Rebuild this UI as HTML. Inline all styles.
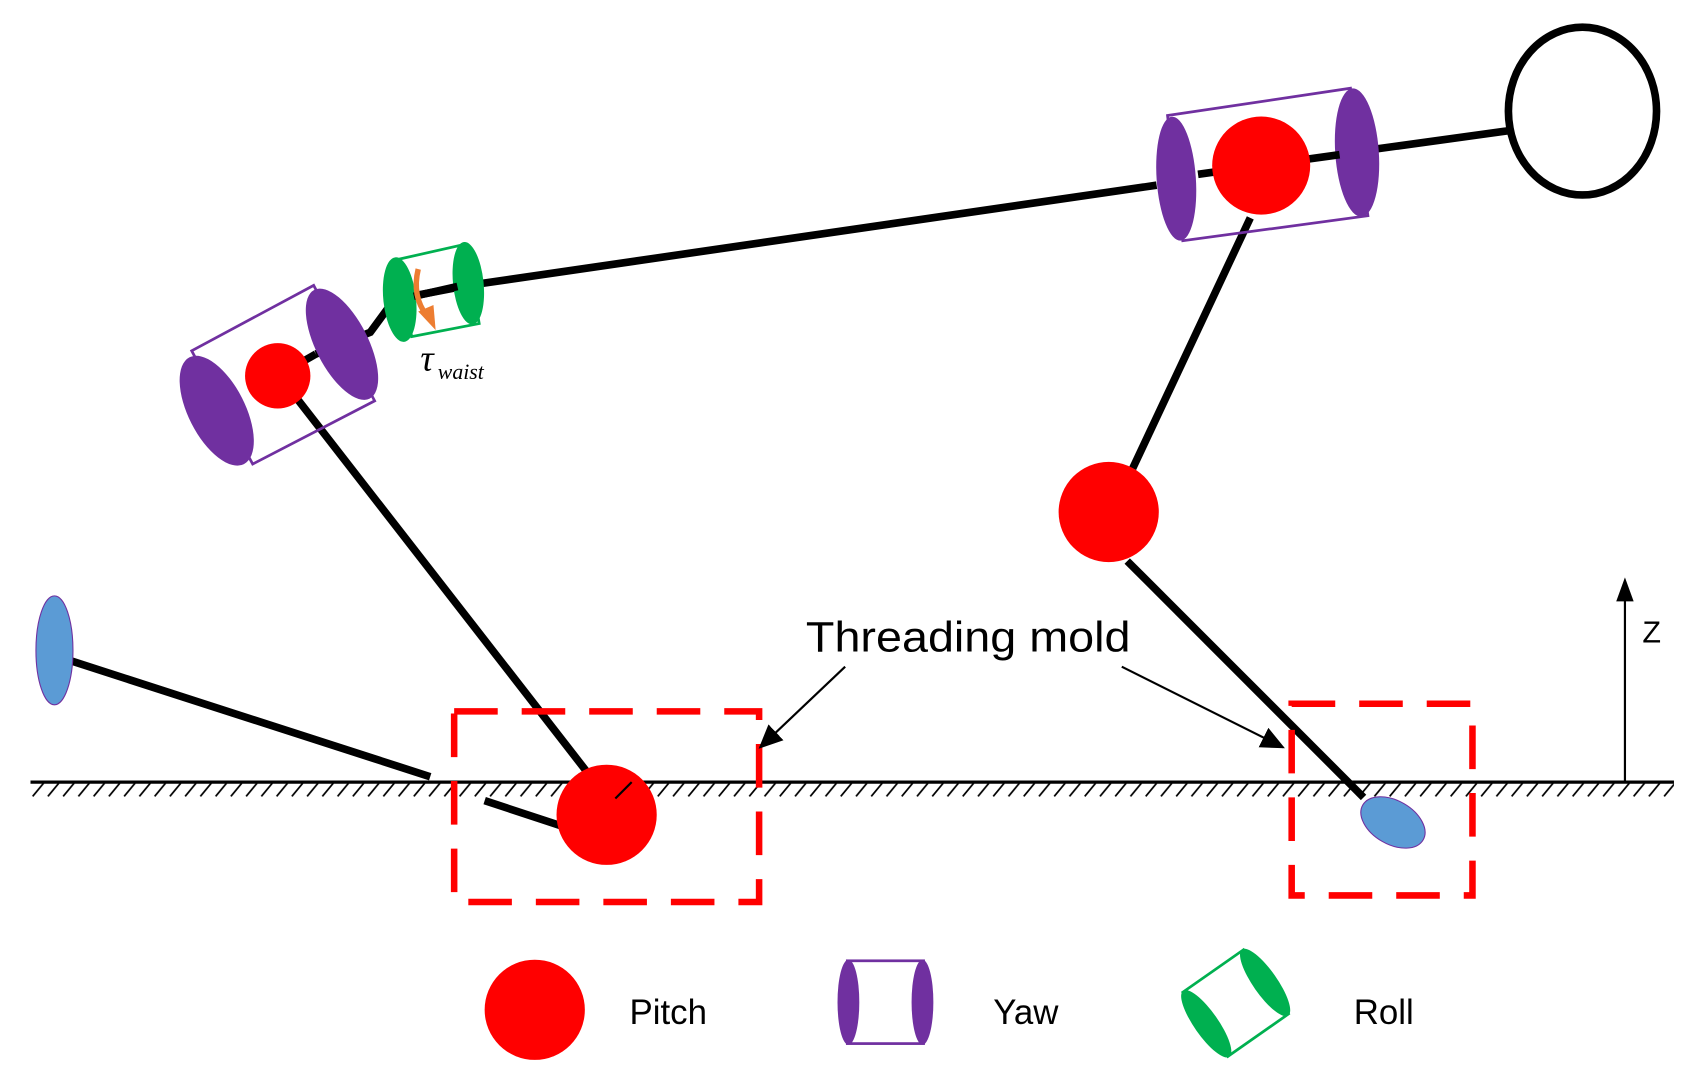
<!DOCTYPE html>
<html><head><meta charset="utf-8"><style>html,body{margin:0;padding:0;background:#fff}svg{display:block}</style></head>
<body>
<svg width="1699" height="1073" viewBox="0 0 1560 985" preserveAspectRatio="none" xmlns="http://www.w3.org/2000/svg">
<defs>
<pattern id="h" x="0" y="718" width="14" height="14" patternUnits="userSpaceOnUse">
<line x1="2" y1="13" x2="12" y2="1" stroke="#000" stroke-width="1.6"/>
</pattern>
<marker id="a" markerWidth="22" markerHeight="20" refX="20" refY="10" orient="auto" markerUnits="userSpaceOnUse" viewBox="0 0 22 20"><path d="M0,0 L22,10 L0,20z" fill="#000"/></marker>
</defs>
<rect x="28" y="719" width="1509" height="13" fill="url(#h)"/>
<line x1="28" y1="718" x2="1537" y2="718" stroke="#000" stroke-width="3"/>
<g stroke="#000" stroke-width="7" stroke-linecap="butt" fill="none">
<line x1="1385" y1="120" x2="1240" y2="140"/>
<line x1="1062" y1="170" x2="430" y2="262"/>
<polyline points="440,260 362,275 340,305 290,325"/>
<line x1="272" y1="365" x2="540" y2="710"/>
<line x1="445" y1="735" x2="515" y2="758"/>
<line x1="395" y1="713" x2="60" y2="605"/>
<line x1="1148" y1="200" x2="1040" y2="430"/>
<line x1="1035" y1="515" x2="1252" y2="732"/>
</g>
<ellipse cx="1453" cy="102" rx="68" ry="77" fill="none" stroke="#000" stroke-width="7"/>
<polygon points="1072,106 1240,81 1256,198 1086,221" fill="none" stroke="#7030a0" stroke-width="2.5"/>
<ellipse cx="1080" cy="164" rx="18" ry="57" fill="#7030a0" transform="rotate(-4 1080 164)"/>
<ellipse cx="1246" cy="140" rx="20" ry="59" fill="#7030a0" transform="rotate(-4 1246 140)"/>
<line x1="1100" y1="160" x2="1230" y2="142" stroke="#000" stroke-width="7"/>
<circle cx="1158" cy="152" r="45" fill="#f00"/>
<polygon points="366,238 428,224 440,297 378,309" fill="none" stroke="#00b050" stroke-width="2.5"/>
<ellipse cx="367" cy="275" rx="15" ry="39" fill="#00b050" transform="rotate(-6 367 275)"/>
<ellipse cx="430" cy="260" rx="14" ry="38" fill="#00b050" transform="rotate(-6 430 260)"/>
<line x1="380" y1="272" x2="420" y2="263" stroke="#000" stroke-width="7"/>
<path d="M384,247 Q378,272 392,290" stroke="#ed7d31" stroke-width="5" fill="none"/>
<path d="M384,286 L400,303 L398,280z" fill="#ed7d31"/>
<text x="386" y="340" font-family="Liberation Serif,serif" font-style="italic" font-size="34">τ</text>
<text x="402" y="348" font-family="Liberation Serif,serif" font-style="italic" font-size="20">waist</text>
<polygon points="176,322 288,262 344,368 232,426" fill="none" stroke="#7030a0" stroke-width="2.5"/>
<ellipse cx="199" cy="377" rx="26" ry="55" fill="#7030a0" transform="rotate(-27 199 377)"/>
<ellipse cx="314" cy="316" rx="24" ry="56" fill="#7030a0" transform="rotate(-27 314 316)"/>
<line x1="290" y1="325" x2="255" y2="345" stroke="#000" stroke-width="7"/>
<circle cx="255" cy="345" r="30" fill="#f00"/>
<ellipse cx="50" cy="597" rx="17" ry="50" fill="#5b9bd5" stroke="#7030a0" stroke-width="1"/>
<circle cx="557" cy="748" r="46" fill="#f00"/>
<line x1="565" y1="733" x2="580" y2="718" stroke="#000" stroke-width="2"/>
<circle cx="1018" cy="470" r="46" fill="#f00"/>
<ellipse cx="1279" cy="755" rx="32" ry="20" fill="#5b9bd5" stroke="#7030a0" stroke-width="1" transform="rotate(30 1279 755)"/>
<rect x="417" y="653" width="280" height="175" fill="none" stroke="#f00" stroke-width="6" stroke-dasharray="40 22"/>
<rect x="1186" y="646" width="166" height="176" fill="none" stroke="#f00" stroke-width="6" stroke-dasharray="40 22"/>
<text x="740" y="598" font-family="Liberation Sans,sans-serif" font-size="39" textLength="298" lengthAdjust="spacingAndGlyphs">Threading mold</text>
<line x1="776" y1="612" x2="698" y2="686" stroke="#000" stroke-width="2" marker-end="url(#a)"/>
<line x1="1030" y1="612" x2="1178" y2="686" stroke="#000" stroke-width="2" marker-end="url(#a)"/>
<line x1="1492" y1="718" x2="1492" y2="545" stroke="#000" stroke-width="2"/>
<path d="M1484,552 L1492,530 L1500,552z" fill="#000"/>
<text x="1508" y="590" font-family="Liberation Sans,sans-serif" font-size="28">Z</text>
<circle cx="491" cy="927" r="46" fill="#f00"/>
<text x="578" y="940" font-family="Liberation Sans,sans-serif" font-size="32">Pitch</text>
<rect x="778" y="882" width="70" height="76" fill="none" stroke="#7030a0" stroke-width="2.5"/>
<ellipse cx="779" cy="920" rx="10" ry="39" fill="#7030a0"/>
<ellipse cx="847" cy="920" rx="10" ry="39" fill="#7030a0"/>
<text x="912" y="940" font-family="Liberation Sans,sans-serif" font-size="32">Yaw</text>
<g transform="rotate(-35 1134 920)">
<rect x="1100" y="885" width="68" height="72" fill="none" stroke="#00b050" stroke-width="2.5"/>
<ellipse cx="1101" cy="921" rx="11" ry="37" fill="#00b050"/>
<ellipse cx="1167" cy="921" rx="11" ry="37" fill="#00b050"/>
</g>
<text x="1243" y="940" font-family="Liberation Sans,sans-serif" font-size="32">Roll</text>
</svg>
</body></html>
